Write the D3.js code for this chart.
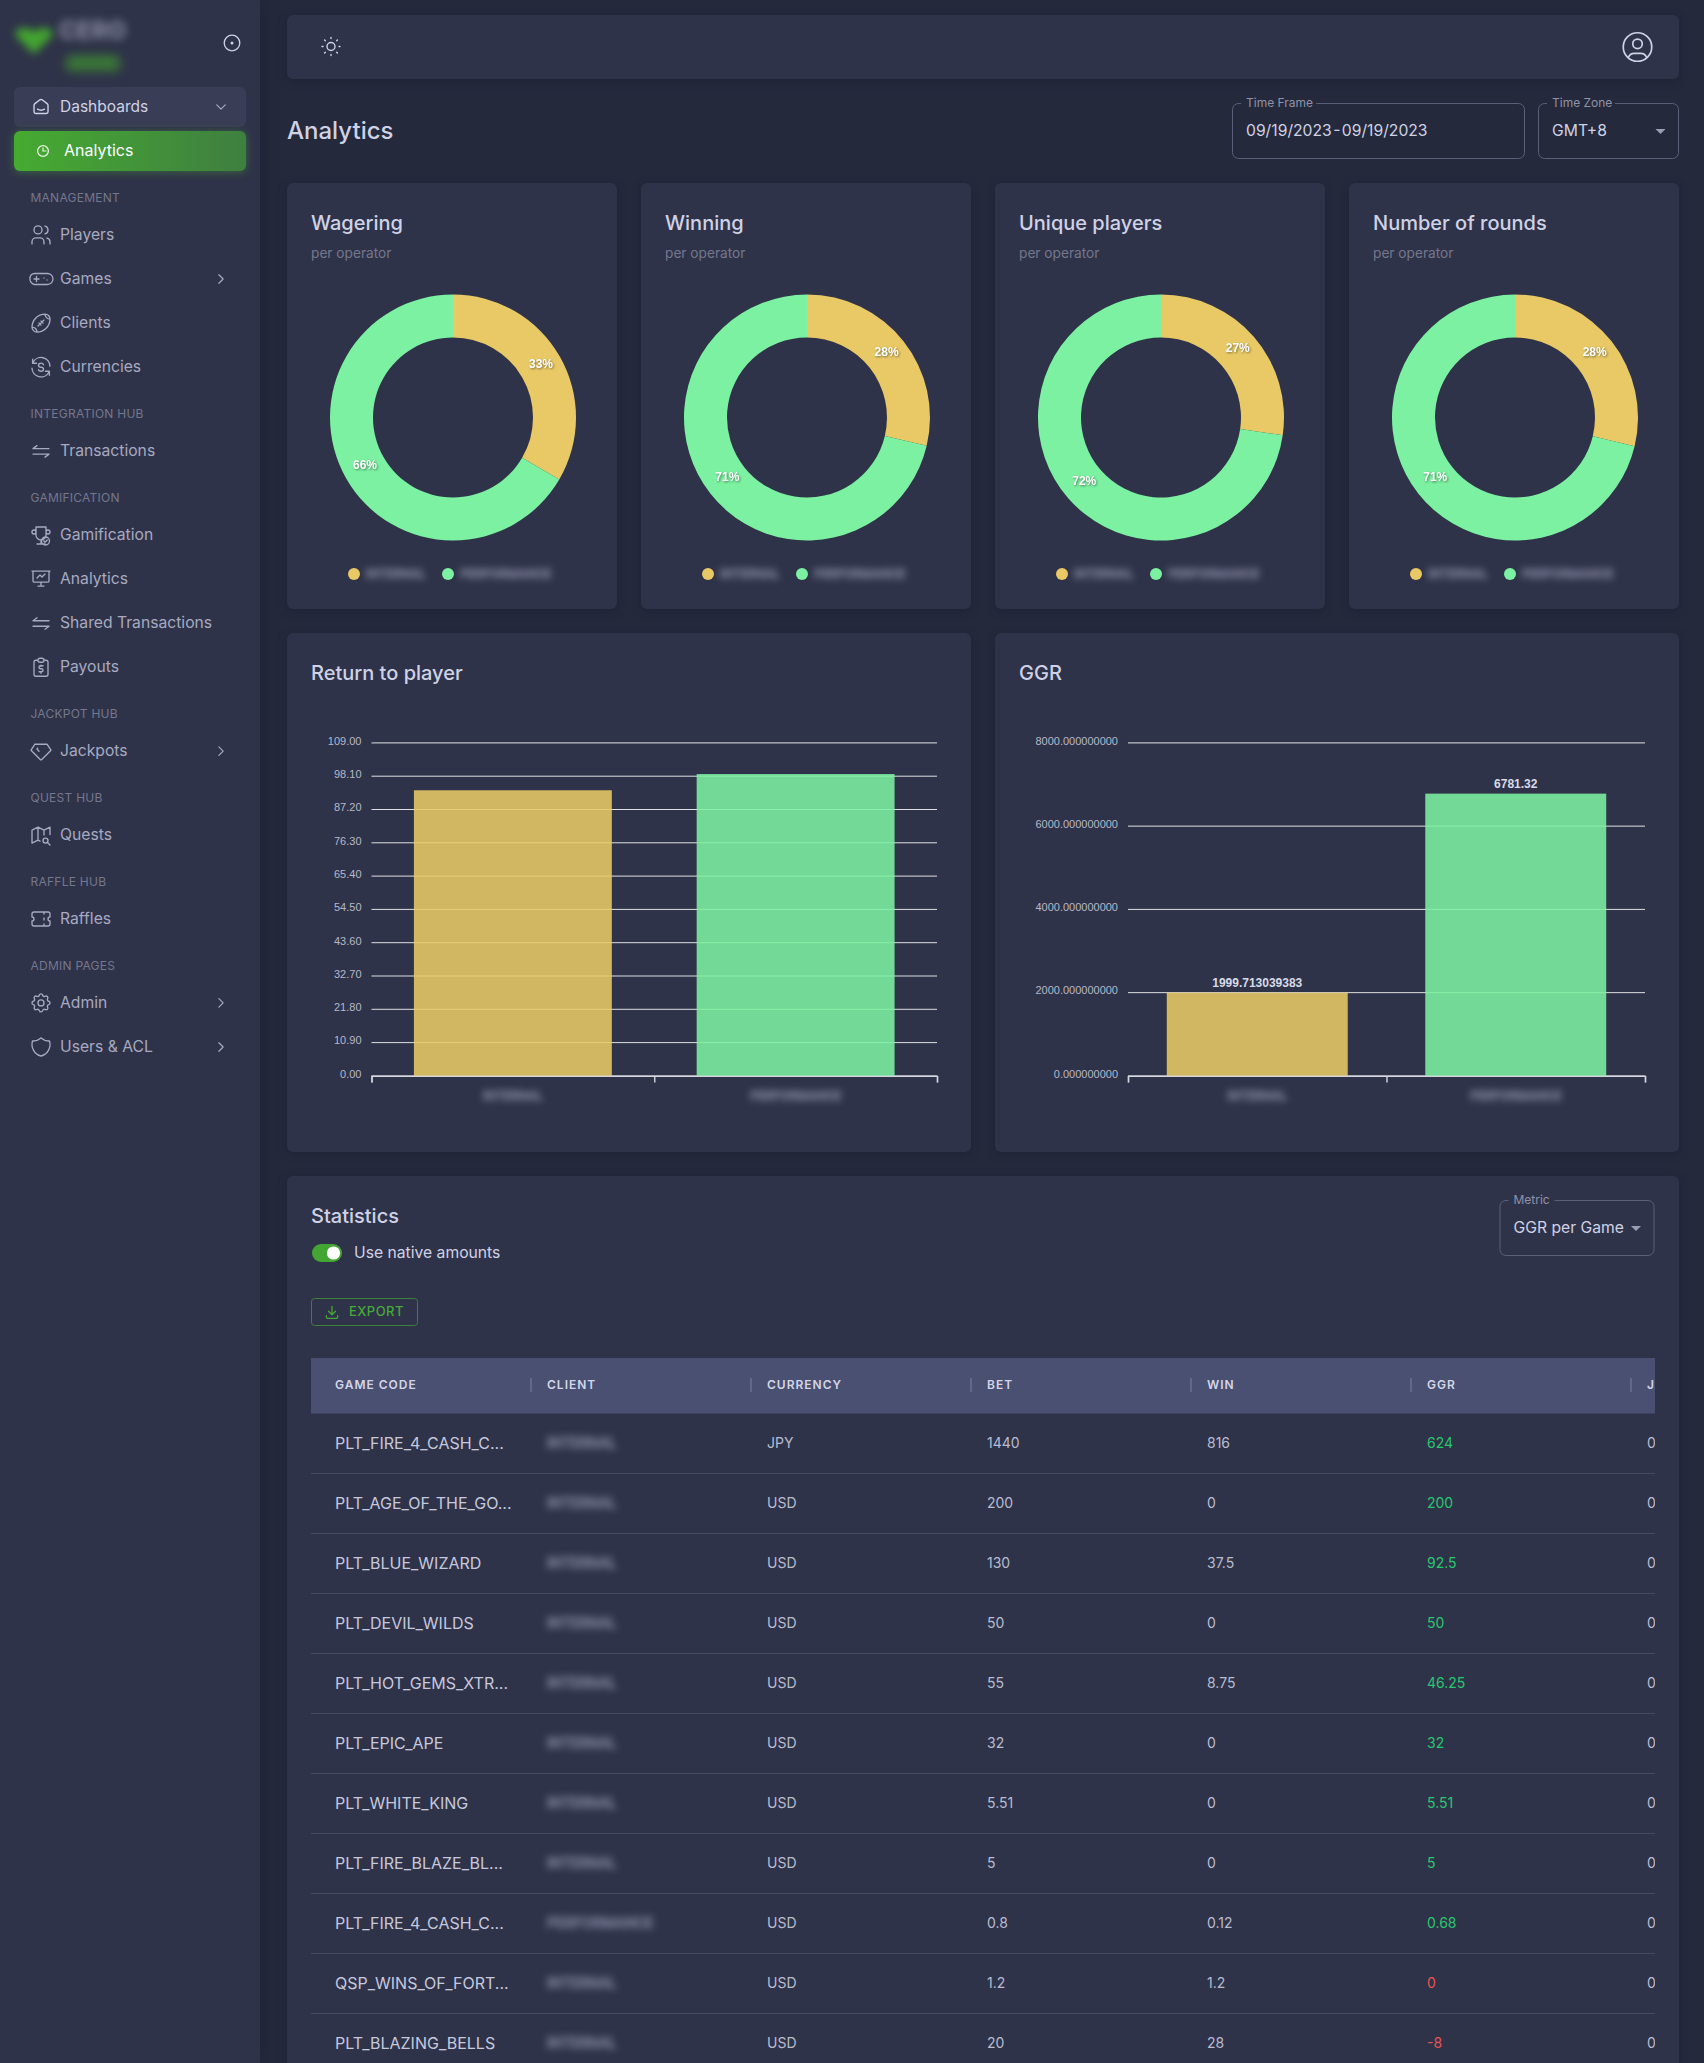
<!DOCTYPE html>
<html>
<head>
<meta charset="utf-8">
<title>Analytics</title>
<script src="https://cdn.jsdelivr.net/npm/d3@7/dist/d3.min.js"></script>
<style>
html, body { margin: 0; padding: 0; background: #25293c; }
svg { display: block; font-family: Inter, "Noto Sans", sans-serif; }
.blur { filter: blur(3.6px); stroke: #6d7088; stroke-width: 1.5px; }
.blurlogo { filter: blur(4.5px); }
.card { filter: drop-shadow(0 2px 5px rgba(15, 20, 34, .35)); }
.apex { font-family: "Liberation Sans", Arial, sans-serif; }
.pct { font-size: 12px; font-weight: 700; fill: #fff; filter: drop-shadow(1px 1px 1px rgba(0, 0, 0, .45)); }
.grid line { stroke: #e0e0e4; stroke-width: 1; }
.grid .domain { display: none; }
.ylab text { font-size: 11px; fill: #b6b8c8; }
.ylab .domain, .ylab line { display: none; }
.xtick line, .xtick .domain { stroke: #d6d7de; stroke-width: 1.4; }
</style>
</head>
<body>
<div id="chart"></div>
<script>
// donut cards
var donutTitles = ['Wagering', 'Winning', 'Unique players', 'Number of rounds'];
var internalShare = [33.4, 28.7, 27.3, 28.75];
var performanceShare = [66.6, 71.3, 72.7, 71.25];
var operators = ['INTERNAL', 'PERFORMANCE'];

// bar cards
var rtpValues = [93.5, 98.8];
var rtpTicks = [0, 10.9, 21.8, 32.7, 43.6, 54.5, 65.4, 76.3, 87.2, 98.1, 109];
var ggrValues = [1999.713039383, 6781.32];
var ggrLabels = ['1999.713039383', '6781.32'];
var ggrTicks = [0, 2000, 4000, 6000, 8000];

// statistics table
var tableHeaders = ['GAME CODE', 'CLIENT', 'CURRENCY', 'BET', 'WIN', 'GGR', 'JACKPOT'];
var gameCodes = ['PLT_FIRE_4_CASH_C...', 'PLT_AGE_OF_THE_GO...', 'PLT_BLUE_WIZARD', 'PLT_DEVIL_WILDS', 'PLT_HOT_GEMS_XTR...', 'PLT_EPIC_APE', 'PLT_WHITE_KING', 'PLT_FIRE_BLAZE_BL...', 'PLT_FIRE_4_CASH_C...', 'QSP_WINS_OF_FORT...', 'PLT_BLAZING_BELLS'];
var clients = ['INTERNAL', 'INTERNAL', 'INTERNAL', 'INTERNAL', 'INTERNAL', 'INTERNAL', 'INTERNAL', 'INTERNAL', 'PERFORMANCE', 'INTERNAL', 'INTERNAL'];
var currencies = ['JPY', 'USD', 'USD', 'USD', 'USD', 'USD', 'USD', 'USD', 'USD', 'USD', 'USD'];
var bets = [1440, 200, 130, 50, 55, 32, 5.51, 5, 0.8, 1.2, 20];
var wins = [816, 0, 37.5, 0, 8.75, 0, 0, 0, 0.12, 1.2, 28];
var ggrs = [624, 200, 92.5, 50, 46.25, 32, 5.51, 5, 0.68, 0, -8];
var jackpots = [0, 0, 0, 0, 0, 0, 0, 0, 0, 0, 0];

// sidebar
var navSections = ['MANAGEMENT', 'INTEGRATION HUB', 'GAMIFICATION', 'JACKPOT HUB', 'QUEST HUB', 'RAFFLE HUB', 'ADMIN PAGES'];
var navItems = [
    ['Players', 'Games', 'Clients', 'Currencies'],
    ['Transactions'],
    ['Gamification', 'Analytics', 'Shared Transactions', 'Payouts'],
    ['Jackpots'],
    ['Quests'],
    ['Raffles'],
    ['Admin', 'Users & ACL']
];
var navWithChevron = ['Games', 'Jackpots', 'Admin', 'Users & ACL'];

var icons = {
    home: 'M19 8.71l-5.333 -4.148a2.666 2.666 0 0 0 -3.274 0l-5.334 4.148a2.665 2.665 0 0 0 -1.029 2.105v7.2a2 2 0 0 0 2 2h12a2 2 0 0 0 2 -2v-7.2c0 -.823 -.38 -1.6 -1.03 -2.105 M16 15c-2.21 1.333 -5.792 1.333 -8 0',
    Players: 'M9 7m-4 0a4 4 0 1 0 8 0a4 4 0 1 0 -8 0 M3 21v-2a4 4 0 0 1 4 -4h4a4 4 0 0 1 4 4v2 M16 3.13a4 4 0 0 1 0 7.75 M21 21v-2a4 4 0 0 0 -3 -3.85',
    Games: 'M1 11a4.5 4.5 0 0 1 4.5 -4.5h13a5.5 5.5 0 0 1 0 11h-13a5.5 5.5 0 0 1 -4.5 -6.5z M5 12h5m-2.5 -2.5v5 M15 11v.01 M18 13v.01',
    Clients: 'M15 9l-6 6 M10 12l2 2 M12 10l2 2 M8 21a5 5 0 0 0 -5 -5 M16 3c-7.18 0 -13 5.82 -13 13a5 5 0 0 0 5 5c7.18 0 13 -5.82 13 -13a5 5 0 0 0 -5 -5 M16 3a5 5 0 0 0 5 5',
    Currencies: 'M21 11a9 9 0 0 0 -16.9 -4m-.5 -3v4h4 M3 13a9 9 0 0 0 16.9 4m.5 3v-4h-4 M14.5 9.5a2.5 2 0 0 0 -2.5 -1.5c-1.4 0 -2.5 .9 -2.5 2s1.1 2 2.5 2s2.5 .9 2.5 2s-1.1 2 -2.5 2a2.5 2 0 0 1 -2.5 -1.5',
    Transactions: 'M4 9.5l4 -3 M4 9.5h16 M20 15l-4 3 M20 15h-16',
    Gamification: 'M8 21h8 M12 17v4 M7 4h10 M17 4v8a5 5 0 0 1 -10 0v-8 M5 9m-2 0a2 2 0 1 0 4 0a2 2 0 1 0 -4 0 M19 9m-2 0a2 2 0 1 0 4 0a2 2 0 1 0 -4 0 M16.5 18m-4 0a4 4 0 1 0 8 0a4 4 0 1 0 -8 0 M14.8 18l1.2 1.2l2.2 -2.2',
    Analytics: 'M3 4h18 M4 4v10a1 1 0 0 0 1 1h14a1 1 0 0 0 1 -1v-10 M12 15v4 M9 19h6 M8 11l3 -3l2 2l3 -3',
    'Shared Transactions': 'M4 9.5l4 -3 M4 9.5h16 M20 15l-4 3 M20 15h-16',
    Payouts: 'M9 5h-2a2 2 0 0 0 -2 2v12a2 2 0 0 0 2 2h10a2 2 0 0 0 2 -2v-12a2 2 0 0 0 -2 -2h-2 M9 3m0 2a2 2 0 0 1 2 -2h2a2 2 0 0 1 2 2v0a2 2 0 0 1 -2 2h-2a2 2 0 0 1 -2 -2z M14 10.5h-2.5a1.5 1.5 0 0 0 0 3h1a1.5 1.5 0 0 1 0 3h-2.5 M12 17v1m0 -8v1',
    Jackpots: 'M6 5h12l4 6l-9.5 9.5a.7 .7 0 0 1 -1 0l-9.5 -9.5l4 -6 M10 12l-2 -2.2l.6 -1',
    Quests: 'M11 18l-2 -1l-6 3v-13l6 -3l6 3l6 -3v7.5 M9 4v13 M15 7v5 M16.5 17.5m-2.5 0a2.5 2.5 0 1 0 5 0a2.5 2.5 0 1 0 -5 0 M18.5 19.5l2.5 2.5',
    Raffles: 'M15 5v2 M15 11v2 M15 17v2 M5 5h14a2 2 0 0 1 2 2v3a2 2 0 0 0 0 4v3a2 2 0 0 1 -2 2h-14a2 2 0 0 1 -2 -2v-3a2 2 0 0 0 0 -4v-3a2 2 0 0 1 2 -2',
    Admin: 'M10.325 4.317c.426 -1.756 2.924 -1.756 3.35 0a1.724 1.724 0 0 0 2.573 1.066c1.543 -.94 3.31 .826 2.37 2.37a1.724 1.724 0 0 0 1.065 2.572c1.756 .426 1.756 2.924 0 3.35a1.724 1.724 0 0 0 -1.066 2.573c.94 1.543 -.826 3.31 -2.37 2.37a1.724 1.724 0 0 0 -2.572 1.065c-.426 1.756 -2.924 1.756 -3.35 0a1.724 1.724 0 0 0 -2.573 -1.066c-1.543 .94 -3.31 -.826 -2.37 -2.37a1.724 1.724 0 0 0 -1.065 -2.572c-1.756 -.426 -1.756 -2.924 0 -3.35a1.724 1.724 0 0 0 1.066 -2.573c-.94 -1.543 .826 -3.31 2.37 -2.37c1 .608 2.296 .07 2.572 -1.065z M9 12a3 3 0 1 0 6 0a3 3 0 0 0 -6 0',
    'Users & ACL': 'M12 3a12 12 0 0 0 8.5 3a12 12 0 0 1 -8.5 15a12 12 0 0 1 -8.5 -15a12 12 0 0 0 8.5 -3',
    sun: 'M12 12m-4 0a4 4 0 1 0 8 0a4 4 0 1 0 -8 0 M3 12h1m8 -9v1m8 8h1m-9 8v1m-6.4 -15.4l.7 .7m12.1 -.7l-.7 .7m0 11.4l.7 .7m-12.1 -.7l-.7 .7',
    user: 'M12 12m-9 0a9 9 0 1 0 18 0a9 9 0 1 0 -18 0 M12 10m-3 0a3 3 0 1 0 6 0a3 3 0 1 0 -6 0 M6.168 18.849a4 4 0 0 1 3.832 -2.849h4a4 4 0 0 1 3.834 2.855',
    right: 'M9 6l6 6l-6 6',
    down: 'M6 9l6 6l6 -6',
    download: 'M4 17v2a2 2 0 0 0 2 2h12a2 2 0 0 0 2 -2v-2 M7 11l5 5l5 -5 M12 4l0 12'
};

var pageBg = '#25293c',
    cardBg = '#2f3349',
    textMain = '#cfd2e6',
    textNav = '#a7aac0',
    textDim = '#74778d',
    blurText = '#6d7088',
    yellow = '#e9c966',
    green = '#7cf1a1';

var svg = d3.select('#chart').append('svg')
    .attr('width', 1704)
    .attr('height', 2063)
    .attr('viewBox', '0 0 1704 2063');

var defs = svg.append('defs');
var activeGrad = defs.append('linearGradient').attr('id', 'activeGrad');
activeGrad.append('stop').attr('offset', '0%').attr('stop-color', '#46ab31');
activeGrad.append('stop').attr('offset', '100%').attr('stop-color', '#3f7f40');
defs.append('clipPath').attr('id', 'tableClip').append('rect')
    .attr('x', 311).attr('y', 1358).attr('width', 1344).attr('height', 705);

svg.append('rect').attr('width', 1704).attr('height', 2063).attr('fill', pageBg);

function label(parent, x, y, str, size, color, weight) {
    return parent.append('text')
        .attr('x', x)
        .attr('y', y - .5)
        .attr('dominant-baseline', 'central')
        .attr('font-size', size)
        .attr('font-weight', weight || 400)
        .attr('fill', color)
        .text(str);
}

function icon(parent, name, cx, cy, size, color, width) {
    var k = size / 24;
    parent.append('path')
        .attr('d', icons[name])
        .attr('transform', 'translate(' + (cx - size / 2) + ',' + (cy - size / 2) + ') scale(' + k + ')')
        .attr('fill', 'none')
        .attr('stroke', color)
        .attr('stroke-width', (width || 1.4) / k)
        .attr('stroke-linecap', 'round')
        .attr('stroke-linejoin', 'round');
}

function card(x, y, w, h) {
    svg.append('rect')
        .attr('class', 'card')
        .attr('x', x).attr('y', y)
        .attr('width', w).attr('height', h)
        .attr('rx', 6)
        .attr('fill', cardBg);
}

function outlined(parent, x, y, w, h, title, titleW, value, bg, caretX) {
    parent.append('rect')
        .attr('x', x + .5).attr('y', y + .5)
        .attr('width', w - 1).attr('height', h - 1)
        .attr('rx', 6)
        .attr('fill', 'none')
        .attr('stroke', '#5b5f78');
    parent.append('rect')
        .attr('x', x + 9).attr('y', y - 1)
        .attr('width', titleW + 10).attr('height', 3)
        .attr('fill', bg);
    label(parent, x + 14, y, title, 12, '#8f92a8');
    var text = label(parent, x + 14, y + h / 2, value, 15.7, textMain);
    if (caretX) {
        parent.append('path')
            .attr('d', d3.line()([[caretX - 5, y + h / 2 - 2], [caretX + 5, y + h / 2 - 2], [caretX, y + h / 2 + 3]]))
            .attr('fill', '#9a9db3');
    }
    return text;
}

// sidebar
function drawSidebar() {
    var g = svg.append('g');
    g.append('rect').attr('width', 260).attr('height', 2063).attr('fill', cardBg)
        .style('filter', 'drop-shadow(2px 0 8px rgba(15, 20, 34, .3))');

    // logo is blurred out in the screenshot
    g.append('path')
        .attr('class', 'blurlogo')
        .attr('d', 'M34 54 L16 36 Q14 28 24 28 Q30 28 34 32 Q38 28 44 28 Q54 28 52 36 Z')
        .attr('fill', '#42a52f');
    label(g, 59, 30.5, 'CERO', 24, '#85879e', 800).attr('class', 'blurlogo');
    g.append('rect').attr('class', 'blurlogo').attr('x', 63).attr('y', 53)
        .attr('width', 60).attr('height', 21).attr('rx', 10).attr('fill', '#35563f');
    g.append('rect').attr('class', 'blurlogo').attr('x', 70).attr('y', 59)
        .attr('width', 46).attr('height', 8).attr('fill', '#3b7f36');

    g.append('circle').attr('cx', 232).attr('cy', 43).attr('r', 7.8)
        .attr('fill', 'none').attr('stroke', '#cfd2e6').attr('stroke-width', 1.3);
    g.append('circle').attr('cx', 232).attr('cy', 43).attr('r', 1.5).attr('fill', '#cfd2e6');

    g.append('rect').attr('x', 14).attr('y', 87).attr('width', 232).attr('height', 40)
        .attr('rx', 6).attr('fill', '#393d55');
    icon(g, 'home', 41, 106.5, 21, textMain);
    label(g, 60, 106.5, 'Dashboards', 15.5, textMain);
    icon(g, 'down', 221, 107, 17, textNav, 1.2);

    g.append('rect').attr('x', 14).attr('y', 131).attr('width', 232).attr('height', 40)
        .attr('rx', 6).attr('fill', 'url(#activeGrad)')
        .style('filter', 'drop-shadow(0 1px 4px rgba(70, 170, 50, .45))');
    g.append('circle').attr('cx', 43).attr('cy', 151).attr('r', 5.4)
        .attr('fill', 'none').attr('stroke', '#e6f3e2').attr('stroke-width', 1.3);
    g.append('path').attr('d', 'M43 147.5V151H46.5').attr('fill', 'none')
        .attr('stroke', '#e6f3e2').attr('stroke-width', 1.2);
    label(g, 64, 150.5, 'Analytics', 16, '#fff');

    var y = 198;
    navSections.forEach(function (section, s) {
        label(g, 30.5, y, section, 12, textDim).attr('letter-spacing', .25);
        y += 36.9;
        navItems[s].forEach(function (item, i) {
            if (i > 0) { y += 44.1; }
            icon(g, item, 41, y, 24, textNav, 1.35);
            label(g, 60, y, item, 15.7, textNav);
            if (navWithChevron.indexOf(item) >= 0) {
                icon(g, 'right', 221, y, 17, textNav, 1.2);
            }
        });
        y += 47;
    });
}

// top bar and page header
function drawHeader() {
    card(287, 15, 1392, 64);
    icon(svg, 'sun', 331, 46.5, 24, textMain);
    icon(svg, 'user', 1637.5, 47, 38, textMain, 1.7);
    label(svg, 287, 130.5, 'Analytics', 24, textMain, 500);
    outlined(svg, 1232, 103, 293, 56, 'Time Frame', 65, '09/19/2023 - 09/19/2023', pageBg)
        .attr('word-spacing', -3);
    outlined(svg, 1538, 103, 141, 56, 'Time Zone', 58, 'GMT+8', pageBg, 1660.5);
}

// one donut card
function drawDonut(i) {
    var x0 = 287 + i * 354;
    card(x0, 183, 330, 426);
    label(svg, x0 + 24, 223, donutTitles[i], 20, textMain, 500);
    label(svg, x0 + 24, 253, 'per operator', 13.7, textDim);

    var g = svg.append('g').attr('transform', 'translate(' + (x0 + 166) + ',417.5)');
    var values = [internalShare[i], performanceShare[i]];
    var pie = d3.pie().sort(null)(values);
    var arc = d3.arc().innerRadius(80).outerRadius(123);
    var colors = d3.scaleOrdinal().domain([0, 1]).range([yellow, green]);

    g.selectAll('path').data(pie).enter().append('path')
        .attr('d', arc)
        .attr('fill', function (d, k) { return colors(k); });

    g.selectAll('text').data(pie).enter().append('text')
        .attr('class', 'apex pct')
        .attr('text-anchor', 'middle')
        .attr('dominant-baseline', 'central')
        .attr('dy', -3)
        .attr('transform', function (d) { return 'translate(' + arc.centroid(d) + ')'; })
        .text(function (d) { return Math.floor(d.value) + '%'; });

    // legend, labels are blurred in the screenshot
    [67, 161].forEach(function (dx, k) {
        svg.append('circle').attr('cx', x0 + dx).attr('cy', 574).attr('r', 6).attr('fill', colors(k));
        label(svg, x0 + dx + 12, 574, operators[k], 12, blurText, 500).attr('class', 'blur');
    });
}

// one bar card
function drawBars(x0, w, title, left, right, values, ticks, fmt, barLabels) {
    card(x0, 633, w, 519);
    label(svg, x0 + 24, 673, title, 20, textMain, 500);

    var top = 742.9, bottom = 1075.9;
    var plotW = right - left;
    var yScale = d3.scaleLinear().domain([0, d3.max(ticks)]).range([bottom - top, 0]);
    var xScale = d3.scaleBand().domain(operators).range([0, plotW]).paddingInner(.3).paddingOuter(.15);
    var edge = d3.scaleLinear().domain([0, 2]).range([0, plotW]);
    var colors = d3.scaleOrdinal().domain(operators).range([yellow, green]);

    var g = svg.append('g').attr('transform', 'translate(' + left + ',' + top + ')');

    g.append('g').attr('class', 'grid')
        .call(d3.axisLeft(yScale).tickValues(ticks).tickSize(-plotW).tickFormat('').offset(0));

    g.append('g').attr('class', 'apex ylab')
        .call(d3.axisLeft(yScale).tickValues(ticks).tickSize(0).tickPadding(10).tickFormat(fmt))
        .selectAll('text').attr('dy', '.12em');

    g.selectAll('.bar').data(values).enter().append('rect')
        .attr('class', 'bar')
        .attr('x', function (d, k) { return xScale(operators[k]); })
        .attr('y', function (d) { return yScale(d); })
        .attr('width', xScale.bandwidth())
        .attr('height', function (d) { return yScale(0) - yScale(d); })
        .attr('fill', function (d, k) { return colors(operators[k]); })
        .attr('fill-opacity', .88);

    g.append('g').attr('class', 'xtick')
        .attr('transform', 'translate(0,' + yScale(0) + ')')
        .call(d3.axisBottom(edge).tickValues([0, 1, 2]).tickSize(6.5).tickFormat(''));

    g.append('g')
        .attr('transform', 'translate(0,' + yScale(0) + ')')
        .selectAll('text').data(operators).enter().append('text')
        .attr('class', 'blur')
        .attr('x', function (d) { return xScale(d) + xScale.bandwidth() / 2; })
        .attr('y', 19.5)
        .attr('text-anchor', 'middle')
        .attr('dominant-baseline', 'central')
        .attr('font-size', 12)
        .attr('font-weight', 500)
        .attr('fill', blurText)
        .text(function (d) { return d; });

    if (barLabels) {
        g.selectAll('.barlabel').data(values).enter().append('text')
            .attr('class', 'apex barlabel')
            .attr('x', function (d, k) { return xScale(operators[k]) + xScale.bandwidth() / 2; })
            .attr('y', function (d) { return yScale(d) - 9.5; })
            .attr('text-anchor', 'middle')
            .attr('dominant-baseline', 'central')
            .attr('font-size', 12)
            .attr('font-weight', 700)
            .attr('fill', '#d8dae8')
            .text(function (d, k) { return barLabels[k]; });
    }
}

// statistics card
function drawStatistics() {
    card(287, 1176, 1392, 950);
    label(svg, 311, 1216, 'Statistics', 20, textMain, 500);

    svg.append('rect').attr('x', 312).attr('y', 1244).attr('width', 30).attr('height', 18)
        .attr('rx', 9).attr('fill', '#43a632');
    svg.append('circle').attr('cx', 333.5).attr('cy', 1253).attr('r', 6.6).attr('fill', '#fff');
    label(svg, 354, 1252.5, 'Use native amounts', 15.7, textMain);

    svg.append('rect').attr('x', 311.5).attr('y', 1298.5).attr('width', 106).attr('height', 27)
        .attr('rx', 3).attr('fill', 'none').attr('stroke', '#3d8138');
    icon(svg, 'download', 332, 1312, 17, '#46a836', 1.3);
    label(svg, 349, 1311.5, 'EXPORT', 13, '#46a836', 500).attr('letter-spacing', .45);

    outlined(svg, 1499.5, 1200, 155, 56, 'Metric', 36, 'GGR per Game', cardBg, 1636);

    var g = svg.append('g').attr('clip-path', 'url(#tableClip)');
    var colRest = d3.scaleLinear().domain([1, 6]).range([547, 1647]);
    function colX(c) { return c === 0 ? 335 : colRest(c); }

    g.append('rect').attr('x', 311).attr('y', 1358).attr('width', 1344).attr('height', 55.5).attr('fill', '#4a5072');
    tableHeaders.forEach(function (h, c) {
        label(g, colX(c), 1385, h, 12, '#d3d6e8', 600).attr('letter-spacing', 1);
        if (c > 0) {
            g.append('rect').attr('x', colX(c) - 17).attr('y', 1378).attr('width', 2).attr('height', 14).attr('fill', '#62688a');
        }
    });

    var rowY = d3.scaleLinear().domain([0, 1]).range([1443, 1503]);

    var rows = g.selectAll('.row').data(gameCodes).enter().append('g')
        .attr('class', 'row')
        .attr('transform', function (d, r) { return 'translate(0,' + rowY(r) + ')'; });

    rows.append('line')
        .attr('x1', 311).attr('x2', 1655)
        .attr('y1', 30.5).attr('y2', 30.5)
        .attr('stroke', '#454a62');

    rows.each(function (d, r) {
        var row = d3.select(this);
        label(row, colX(0), 0, d, 16, '#c6c9de');
        label(row, colX(1), 0, clients[r], 14, blurText, 500).attr('class', 'blur');
        label(row, colX(2), 0, currencies[r], 14, '#b9bcd1');
        label(row, colX(3), 0, bets[r], 14, '#b9bcd1');
        label(row, colX(4), 0, wins[r], 14, '#b9bcd1');
        label(row, colX(5), 0, ggrs[r], 14, ggrs[r] > 0 ? '#28c76f' : '#ea5455');
        label(row, colX(6), 0, jackpots[r], 14, '#b9bcd1');
    });
}

drawSidebar();
drawHeader();
donutTitles.forEach(function (t, i) { drawDonut(i); });
drawBars(287, 684, 'Return to player', 371.5, 937, rtpValues, rtpTicks, d3.format('.2f'), null);
drawBars(995, 684, 'GGR', 1128, 1645, ggrValues, ggrTicks, d3.format('.9f'), ggrLabels);
drawStatistics();
</script>
</body>
</html>
